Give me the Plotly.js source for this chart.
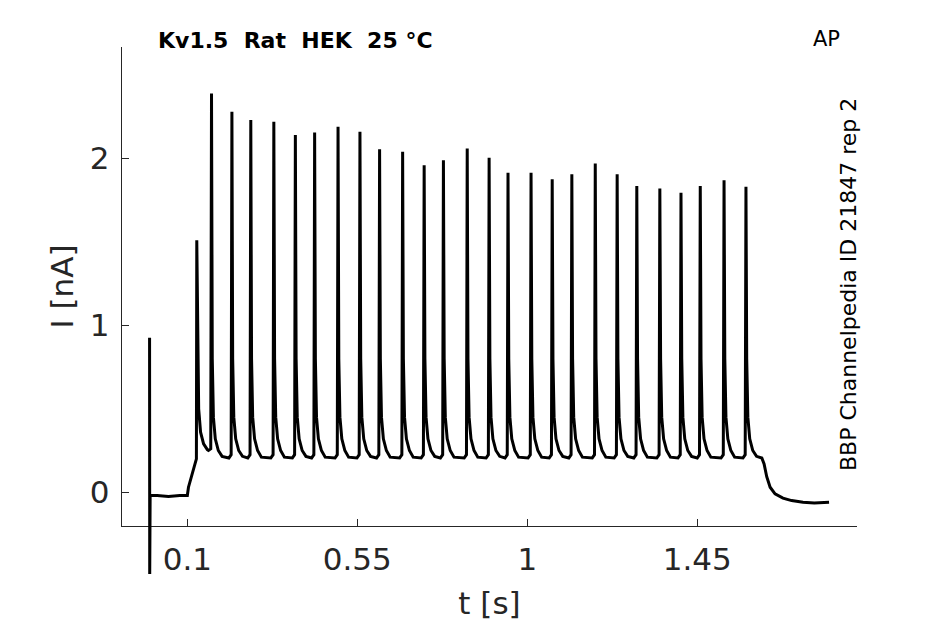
<!DOCTYPE html>
<html>
<head>
<meta charset="utf-8">
<script src="https://cdn.plot.ly/plotly-3.0.1.min.js"></script>
<style>html,body{margin:0;padding:0;background:#fff;}#chart{width:945px;height:624px;}</style>
</head>
<body>
<div id="chart"></div>
<script>
// ---- data ----
// capacitive transient + holding baseline before stimulus
const preT = [0.000, 0.0004, 0.0015, 0.020, 0.050, 0.080, 0.1000, 0.103, 0.110, 0.124];
const preI = [0.925, -0.49, -0.02, -0.02, -0.025, -0.02, -0.02, 0.03, 0.09, 0.20];

// spike train (one line per spike: peak, decay, trough, pre-next)
const trainT = [
  0.125, 0.127, 0.130, 0.135, 0.143, 0.153, 0.156, 0.162,
  0.164, 0.166, 0.169, 0.174, 0.182, 0.192, 0.210, 0.216,
  0.218, 0.220, 0.223, 0.228, 0.236, 0.246, 0.260, 0.266,
  0.268, 0.270, 0.273, 0.278, 0.286, 0.296, 0.321, 0.327,
  0.329, 0.331, 0.334, 0.339, 0.347, 0.357, 0.378, 0.384,
  0.386, 0.388, 0.391, 0.396, 0.404, 0.414, 0.429, 0.435,
  0.437, 0.439, 0.442, 0.447, 0.455, 0.465, 0.491, 0.497,
  0.499, 0.501, 0.504, 0.509, 0.517, 0.527, 0.549, 0.555,
  0.557, 0.559, 0.562, 0.567, 0.575, 0.585, 0.601, 0.607,
  0.609, 0.611, 0.614, 0.619, 0.627, 0.637, 0.662, 0.668,
  0.670, 0.672, 0.675, 0.680, 0.688, 0.698, 0.719, 0.725,
  0.727, 0.729, 0.732, 0.737, 0.745, 0.755, 0.770, 0.776,
  0.778, 0.780, 0.783, 0.788, 0.796, 0.806, 0.833, 0.839,
  0.841, 0.843, 0.846, 0.851, 0.859, 0.869, 0.891, 0.897,
  0.899, 0.901, 0.904, 0.909, 0.917, 0.927, 0.941, 0.947,
  0.949, 0.951, 0.954, 0.959, 0.967, 0.977, 1.002, 1.008,
  1.010, 1.012, 1.015, 1.020, 1.028, 1.038, 1.058, 1.064,
  1.066, 1.068, 1.071, 1.076, 1.084, 1.094, 1.110, 1.116,
  1.118, 1.120, 1.123, 1.128, 1.136, 1.146, 1.172, 1.178,
  1.180, 1.182, 1.185, 1.190, 1.198, 1.208, 1.230, 1.236,
  1.238, 1.240, 1.243, 1.248, 1.256, 1.266, 1.282, 1.288,
  1.290, 1.292, 1.295, 1.300, 1.308, 1.318, 1.343, 1.349,
  1.351, 1.353, 1.356, 1.361, 1.369, 1.379, 1.399, 1.405,
  1.407, 1.409, 1.412, 1.417, 1.425, 1.435, 1.450, 1.456,
  1.458, 1.460, 1.463, 1.468, 1.476, 1.486, 1.513, 1.519,
  1.521, 1.523, 1.526, 1.531, 1.539, 1.549, 1.571, 1.577,
  1.579, 1.581, 1.584, 1.589, 1.597, 1.607, 1.615, 1.621
];
const trainI = [
  1.51, 0.85, 0.50, 0.36, 0.29, 0.255, 0.25, 0.26,
  2.39, 0.80, 0.45, 0.32, 0.25, 0.215, 0.205, 0.225,
  2.28, 0.80, 0.45, 0.32, 0.25, 0.215, 0.205, 0.225,
  2.23, 0.80, 0.45, 0.32, 0.25, 0.21, 0.205, 0.225,
  2.22, 0.80, 0.45, 0.32, 0.25, 0.21, 0.205, 0.225,
  2.14, 0.80, 0.45, 0.32, 0.25, 0.215, 0.205, 0.225,
  2.155, 0.80, 0.45, 0.32, 0.25, 0.21, 0.205, 0.225,
  2.19, 0.80, 0.45, 0.32, 0.25, 0.21, 0.205, 0.225,
  2.16, 0.80, 0.45, 0.32, 0.25, 0.215, 0.205, 0.225,
  2.055, 0.80, 0.45, 0.32, 0.25, 0.21, 0.205, 0.225,
  2.04, 0.80, 0.45, 0.32, 0.25, 0.21, 0.205, 0.225,
  1.96, 0.80, 0.45, 0.32, 0.25, 0.215, 0.205, 0.225,
  1.99, 0.80, 0.45, 0.32, 0.25, 0.21, 0.205, 0.225,
  2.06, 0.80, 0.45, 0.32, 0.25, 0.21, 0.205, 0.225,
  2.005, 0.80, 0.45, 0.32, 0.25, 0.215, 0.205, 0.225,
  1.915, 0.80, 0.45, 0.32, 0.25, 0.21, 0.205, 0.225,
  1.915, 0.80, 0.45, 0.32, 0.25, 0.21, 0.205, 0.225,
  1.875, 0.80, 0.45, 0.32, 0.25, 0.215, 0.205, 0.225,
  1.905, 0.80, 0.45, 0.32, 0.25, 0.21, 0.205, 0.225,
  1.97, 0.80, 0.45, 0.32, 0.25, 0.21, 0.205, 0.225,
  1.905, 0.80, 0.45, 0.32, 0.25, 0.215, 0.205, 0.225,
  1.835, 0.80, 0.45, 0.32, 0.25, 0.21, 0.205, 0.225,
  1.82, 0.80, 0.45, 0.32, 0.25, 0.21, 0.205, 0.225,
  1.795, 0.80, 0.45, 0.32, 0.25, 0.215, 0.205, 0.225,
  1.835, 0.80, 0.45, 0.32, 0.25, 0.21, 0.205, 0.225,
  1.87, 0.80, 0.45, 0.32, 0.25, 0.21, 0.205, 0.225,
  1.83, 0.80, 0.45, 0.32, 0.25, 0.215, 0.21, 0.205
];

// deactivation tail after the stimulus
const tailT = [1.627, 1.634, 1.643, 1.656, 1.677, 1.700, 1.730, 1.760, 1.799];
const tailI = [0.17, 0.093, 0.03, -0.01, -0.035, -0.05, -0.06, -0.065, -0.06];

const xTickVals = [0.1, 0.55, 1, 1.45];
const xTickText = ['0.1', '0.55', '1', '1.45'];
const yTickVals = [0, 1, 2];
const yTickText = ['0', '1', '2'];

const titleText = 'Kv1.5\u00A0\u00A0Rat\u00A0\u00A0HEK\u00A0\u00A025\u00A0°C';
const cornerText = 'AP';
const sideText = 'BBP Channelpedia ID 21847 rep 2';

// ---- plot ----
const tAll = preT.concat(trainT, tailT);
const iAll = preI.concat(trainI, tailI);

const axisCol = '#262626';
const fontFam = 'DejaVu Sans, sans-serif';

const traces = [
  {x: [], y: [], xaxis: 'x', yaxis: 'y', type: 'scatter', mode: 'lines', showlegend: false},
  {x: tAll, y: iAll, xaxis: 'x', yaxis: 'y2', type: 'scatter', mode: 'lines',
   line: {color: '#000000', width: 3}, showlegend: false, hoverinfo: 'skip'}
];

const layout = {
  width: 945, height: 624,
  margin: {l: 122, r: 88, t: 47, b: 49, pad: 0},
  paper_bgcolor: '#ffffff', plot_bgcolor: 'rgba(0,0,0,0)',
  font: {family: fontFam, color: axisCol},
  showlegend: false,
  title: {text: '<b>' + titleText + '</b>', font: {family: fontFam, size: 22, color: '#000'},
          x: 158/945, xanchor: 'left', xref: 'container', y: 1 - 40/624, yanchor: 'middle', yref: 'container'},
  xaxis: {
    anchor: 'y', domain: [0, 1], range: [-0.073, 1.873],
    tickvals: xTickVals, ticktext: xTickText,
    ticks: 'inside', ticklen: 7, tickwidth: 1, tickcolor: axisCol,
    showline: true, linecolor: axisCol, linewidth: 1.2,
    showgrid: false, zeroline: false, ticklabelstandoff: 6,
    tickfont: {family: fontFam, size: 31, color: axisCol},
    title: {text: 't [s]', font: {family: fontFam, size: 31, color: axisCol}, standoff: 15}
  },
  yaxis: {
    anchor: 'x', domain: [0.0928, 1], range: [-0.202, 2.668],
    tickvals: yTickVals, ticktext: yTickText,
    ticks: 'inside', ticklen: 7, tickwidth: 1, tickcolor: axisCol,
    showline: true, linecolor: axisCol, linewidth: 1.2,
    showgrid: false, zeroline: false, ticklabelstandoff: 5,
    tickfont: {family: fontFam, size: 31, color: axisCol},
    title: {text: 'I [nA]', font: {family: fontFam, size: 31, color: axisCol}, standoff: 7}
  },
  yaxis2: {
    anchor: 'x', domain: [0, 1], range: [-0.496, 2.668],
    visible: false, showgrid: false, zeroline: false, fixedrange: true
  },
  annotations: [
    {text: cornerText, xref: 'paper', yref: 'paper', x: (826-122)/(945-122-88), y: (624-49-39)/(624-47-49),
     xanchor: 'center', yanchor: 'middle', showarrow: false,
     font: {family: fontFam, size: 21, color: '#000'}},
    {text: sideText, xref: 'paper', yref: 'paper', x: (848-122)/(945-122-88), y: (624-49-285)/(624-47-49),
     xanchor: 'center', yanchor: 'middle', textangle: -90, showarrow: false,
     font: {family: fontFam, size: 22, color: '#000'}}
  ]
};

Plotly.newPlot('chart', traces, layout, {staticPlot: true, displayModeBar: false});
</script>
</body>
</html>
